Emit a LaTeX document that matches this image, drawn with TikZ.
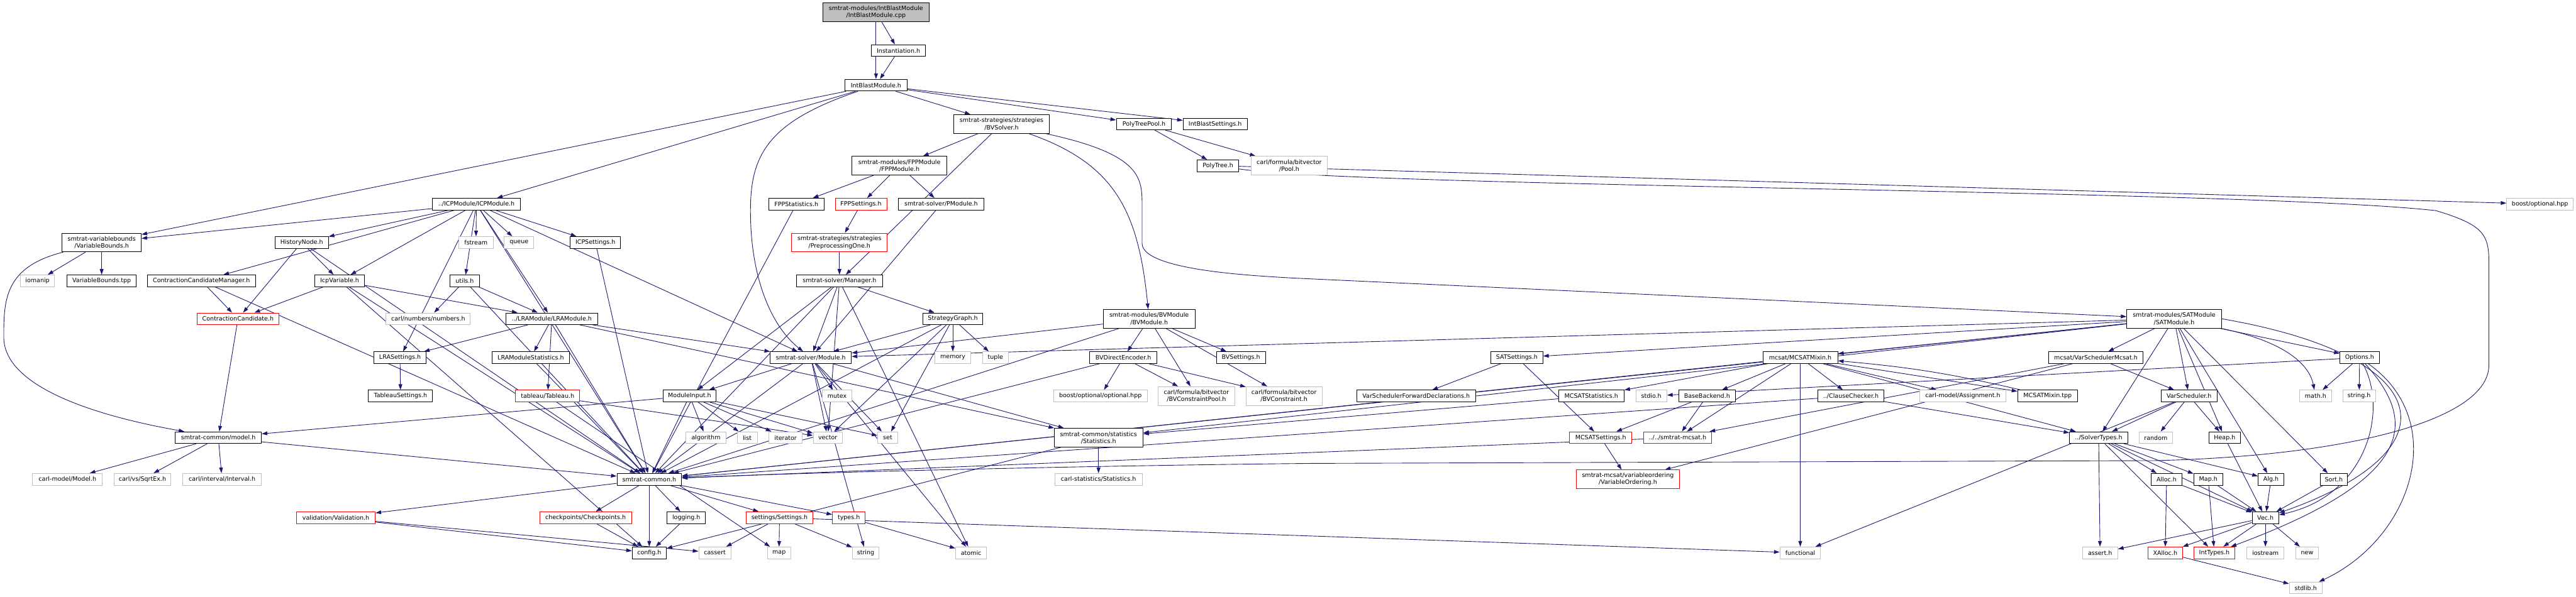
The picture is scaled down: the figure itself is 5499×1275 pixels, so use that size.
\documentclass[tikz,border=0pt]{standalone}
\usepackage{fontspec}
\newfontfamily\dotfont{DejaVu Sans}
\usetikzlibrary{arrows.meta,backgrounds}
\definecolor{edge}{HTML}{191970}
\definecolor{sysgray}{HTML}{BFBFBF}
\definecolor{rootfill}{HTML}{BFBFBF}

\begin{document}
\begin{tikzpicture}[x=1pt,y=-1pt,
    font=\dotfont\fontsize{12.8}{15}\selectfont,
    box/.style={draw,fill=white,line width=1.2pt,inner xsep=1pt,inner ysep=2pt,minimum height=25pt,align=center},
    hdr/.style={box,draw=black},
    sys/.style={box,draw=sysgray},
    cut/.style={box,draw=red},
    root/.style={hdr,fill=rootfill},
    two/.style={minimum height=40pt},
    wd/.style={minimum width=#1pt},
    arr/.style={-{Triangle[length=12pt,width=8pt]},draw=edge,line width=1.2pt}
  ]
  \useasboundingbox (0,0) rectangle (5499,1275);

  % top of the graph
  \node[root,two,wd=228] (root) at (1870,26) {smtrat-modules/IntBlastModule\\/IntBlastModule.cpp};
  \node[hdr,wd=116] (inst) at (1918,108) {Instantiation.h};
  \node[hdr,wd=132] (ibh) at (1870,182) {IntBlastModule.h};
  \node[hdr,two,wd=204] (bvsolver) at (2138,265) {smtrat-strategies/strategies\\/BVSolver.h};
  \node[hdr,wd=118] (ptpool) at (2442,265) {PolyTreePool.h};
  \node[hdr,wd=137] (ibset) at (2594,265) {IntBlastSettings.h};
  \node[hdr,two,wd=203] (fppmod) at (1920,354) {smtrat-modules/FPPModule\\/FPPModule.h};
  \node[hdr,wd=89] (polytree) at (2600,354) {PolyTree.h};
  \node[sys,two,wd=163] (bvpool) at (2752,354) {carl/formula/bitvector\\/Pool.h};
  \node[hdr,wd=188] (icpmod) at (1017,436) {../ICPModule/ICPModule.h};
  \node[hdr,wd=119] (fppstat) at (1700,436) {FPPStatistics.h};
  \node[cut,wd=110] (fppset) at (1838,436) {FPPSettings.h};
  \node[hdr,wd=183] (pmodule) at (2009,436) {smtrat-solver/PModule.h};
  \node[sys,wd=142] (boostopt) at (5422,436) {boost/optional.hpp};

  % icp and strategy level
  \node[hdr,two,wd=169] (varbounds) at (217,518) {smtrat-variablebounds\\/VariableBounds.h};
  \node[hdr,wd=114] (histnode) at (644,518) {HistoryNode.h};
  \node[sys,wd=73] (fstream) at (1016,518) {fstream};
  \node[sys,wd=63] (queue) at (1108,518) {queue};
  \node[hdr,wd=107] (icpset) at (1271,518) {ICPSettings.h};
  \node[cut,two,wd=204] (preproc) at (1792,518) {smtrat-strategies/strategies\\/PreprocessingOne.h};
  \node[sys,wd=73] (iomanip) at (80,600) {iomanip};
  \node[hdr,wd=148] (vbtpp) at (217,600) {VariableBounds.tpp};
  \node[hdr,wd=231] (ccm) at (430,600) {ContractionCandidateManager.h};
  \node[hdr,wd=106] (icpvar) at (725,600) {IcpVariable.h};
  \node[hdr,wd=63] (utils) at (992,600) {utils.h};
  \node[hdr,wd=184] (manager) at (1792,600) {smtrat-solver/Manager.h};

  % module level
  \node[cut,wd=175] (ccand) at (508,681) {ContractionCandidate.h};
  \node[sys,wd=180] (numbers) at (914,681) {carl/numbers/numbers.h};
  \node[hdr,wd=196] (lramod) at (1178,681) {../LRAModule/LRAModule.h};
  \node[hdr,wd=128] (stratgraph) at (2034,681) {StrategyGraph.h};
  \node[hdr,two,wd=196] (bvmod) at (2453,681) {smtrat-modules/BVModule\\/BVModule.h};
  \node[hdr,two,wd=202] (satmod) at (4641,681) {smtrat-modules/SATModule\\/SATModule.h};
  \node[hdr,wd=112] (lraset) at (854,764) {LRASettings.h};
  \node[hdr,wd=166] (lrastat) at (1133,764) {LRAModuleStatistics.h};
  \node[hdr,wd=173] (module) at (1731,764) {smtrat-solver/Module.h};
  \node[sys,wd=77] (memory) at (2034,764) {memory};
  \node[sys,wd=54] (tuple) at (2125,764) {tuple};
  \node[hdr,wd=143] (bvenc) at (2398,764) {BVDirectEncoder.h};
  \node[hdr,wd=105] (bvset) at (2649,764) {BVSettings.h};
  \node[hdr,wd=111] (satset) at (3238,764) {SATSettings.h};
  \node[hdr,wd=160] (mixin) at (3843,764) {mcsat/MCSATMixin.h};
  \node[hdr,wd=202] (vsmcsat) at (4474,764) {mcsat/VarSchedulerMcsat.h};
  \node[hdr,wd=84] (options) at (5037,764) {Options.h};

  % headers below the modules
  \node[hdr,wd=137] (tabset) at (855,846) {TableauSettings.h};
  \node[cut,wd=137] (tableau) at (1169,846) {tableau/Tableau.h};
  \node[hdr,wd=114] (modinput) at (1472,846) {ModuleInput.h};
  \node[sys,wd=63] (mutex) at (1787,846) {mutex};
  \node[sys,wd=200] (boostopt2) at (2349,846) {boost/optional/optional.hpp};
  \node[sys,two,wd=163] (bvcpool) at (2554,846) {carl/formula/bitvector\\/BVConstraintPool.h};
  \node[sys,two,wd=162] (bvcons) at (2741,846) {carl/formula/bitvector\\/BVConstraint.h};
  \node[hdr,wd=253] (vsfwd) at (3023,846) {VarSchedulerForwardDeclarations.h};
  \node[hdr,wd=140] (mcstat) at (3397,846) {MCSATStatistics.h};
  \node[sys,wd=66] (stdio) at (3525,846) {stdio.h};
  \node[hdr,wd=121] (backend) at (3644,846) {BaseBackend.h};
  \node[hdr,wd=141] (clausechk) at (3951,846) {../ClauseChecker.h};
  \node[sys,wd=185] (assign) at (4190,846) {carl-model/Assignment.h};
  \node[hdr,wd=128] (mixintpp) at (4371,846) {MCSATMixin.tpp};
  \node[hdr,wd=119] (varsched) at (4673,846) {VarScheduler.h};
  \node[sys,wd=68] (mathh) at (4943,846) {math.h};
  \node[sys,wd=70] (stringh) at (5036,846) {string.h};

  \node[hdr,wd=184] (model) at (466,935) {smtrat-common/model.h};
  \node[sys,wd=85] (algorithm) at (1507,935) {algorithm};
  \node[sys,wd=43] (list) at (1595,935) {list};
  \node[sys,wd=71] (iterator) at (1677,935) {iterator};
  \node[sys,wd=62] (vector) at (1767,935) {vector};
  \node[sys,wd=43] (set) at (1895,935) {set};
  \node[hdr,two,wd=190] (stats) at (2345,935) {smtrat-common/statistics\\/Statistics.h};
  \node[cut,wd=133] (mcset) at (3417,935) {MCSATSettings.h};
  \node[cut,wd=146] (mcsat) at (3581,935) {../../smtrat-mcsat.h};
  \node[hdr,wd=124] (soltypes) at (4480,935) {../SolverTypes.h};
  \node[sys,wd=72] (random) at (4602,935) {random};
  \node[hdr,wd=68] (heap) at (4749,935) {Heap.h};

  % common and minisat level
  \node[sys,wd=149] (carlmodel) at (144,1024) {carl-model/Model.h};
  \node[sys,wd=122] (sqrtex) at (304,1024) {carl/vs/SqrtEx.h};
  \node[sys,wd=167] (interval) at (474,1024) {carl/interval/Interval.h};
  \node[hdr,wd=138] (common) at (1386,1024) {smtrat-common.h};
  \node[sys,wd=187] (carlstats) at (2345,1024) {carl-statistics/Statistics.h};
  \node[cut,two,wd=221] (varorder) at (3475,1024) {smtrat-mcsat/variableordering\\/VariableOrdering.h};
  \node[hdr,wd=66] (alloc) at (4625,1024) {Alloc.h};
  \node[hdr,wd=62] (maph) at (4714,1024) {Map.h};
  \node[hdr,wd=55] (alg) at (4848,1024) {Alg.h};
  \node[hdr,wd=59] (sort) at (4982,1024) {Sort.h};
  \node[cut,wd=168] (validation) at (717,1106) {validation/Validation.h};
  \node[cut,wd=196] (checkpoints) at (1250,1106) {checkpoints/Checkpoints.h};
  \node[hdr,wd=82] (logging) at (1465,1106) {logging.h};
  \node[cut,wd=143] (settings) at (1664,1106) {settings/Settings.h};
  \node[cut,wd=70] (types) at (1812,1106) {types.h};
  \node[hdr,wd=57] (vec) at (4836,1106) {Vec.h};
  \node[hdr,wd=73] (config) at (1386,1181) {config.h};
  \node[sys,wd=69] (cassert) at (1526,1181) {cassert};
  \node[sys,wd=50] (map) at (1663,1181) {map};
  \node[sys,wd=57] (string) at (1848,1181) {string};
  \node[sys,wd=66] (atomic) at (2073,1181) {atomic};
  \node[sys,wd=87] (functional) at (3843,1181) {functional};
  \node[sys,wd=75] (asserth) at (4483,1181) {assert.h};
  \node[cut,wd=74] (xalloc) at (4622,1181) {XAlloc.h};
  \node[cut,wd=87] (inttypes) at (4727,1181) {IntTypes.h};
  \node[sys,wd=79] (iostream) at (4836,1181) {iostream};
  \node[sys,wd=49] (new) at (4925,1181) {new};
  \node[sys,wd=70] (stdlib) at (4922,1256) {stdlib.h};

  \begin{scope}[on background layer]
  % includes of the top files
  \draw[arr] (root) -- (inst); \draw[arr] (root) -- (ibh);
  \draw[arr] (inst) -- (ibh);
  \draw[arr] (ibh) -- (varbounds); \draw[arr] (ibh) -- (icpmod); \draw[arr] (ibh) -- (bvsolver);
  \draw[arr] (ibh) -- (ptpool); \draw[arr] (ibh) -- (ibset);
  \draw[arr] (ibh) .. controls (1640,260) and (1602,330) .. (1602,450) .. controls (1602,600) and (1650,700) .. (module);
  \draw[arr] (ptpool) -- (polytree); \draw[arr] (ptpool) -- (bvpool);
  \draw[arr] (polytree) -- (boostopt);
  \draw[arr] (polytree) .. controls (2900,400) and (4800,405) .. (5200,450) .. controls (5300,480) and (5313,500) .. (5313,560) -- (5313,780) .. controls (5313,900) and (5000,975) .. (4600,984) -- (2800,990) .. controls (2300,995) and (1700,1010) .. (common);
  \draw[arr] (bvsolver) -- (fppmod); \draw[arr] (bvsolver) -- (manager);
  \draw[arr] (bvsolver) .. controls (2380,350) and (2430,450) .. (bvmod);
  \draw[arr] (bvsolver) .. controls (2438,330) and (2438,380) .. (2438,440) -- (2438,520) .. controls (2438,580) and (2700,590) .. (2760,594) -- (satmod);
  \draw[arr] (fppmod) -- (fppstat); \draw[arr] (fppmod) -- (fppset); \draw[arr] (fppmod) -- (pmodule);
  \draw[arr] (fppset) -- (preproc); \draw[arr] (preproc) -- (manager);
  \draw[arr] (fppstat) -- (common); \draw[arr] (pmodule) -- (module);

  % the icp module
  \draw[arr] (icpmod) -- (varbounds); \draw[arr] (icpmod) -- (histnode); \draw[arr] (icpmod) -- (ccm);
  \draw[arr] (icpmod) -- (icpvar); \draw[arr] (icpmod) -- (utils); \draw[arr] (icpmod) -- (fstream);
  \draw[arr] (icpmod) -- (queue); \draw[arr] (icpmod) -- (icpset); \draw[arr] (icpmod) -- (lramod);
  \draw[arr] (icpmod) -- (lraset); \draw[arr] (icpmod) -- (module); \draw[arr] (icpmod) -- (common);
  \draw[arr] (icpset) -- (common);
  \draw[arr] (histnode) -- (icpvar); \draw[arr] (histnode) -- (ccand); \draw[arr] (histnode) -- (common);
  \draw[arr] (icpvar) -- (ccand); \draw[arr] (icpvar) -- (lramod); \draw[arr] (icpvar) -- (common);
  \draw[arr] (icpvar) -- (config);
  \draw[arr] (ccm) -- (ccand); \draw[arr] (ccm) -- (common);
  \draw[arr] (ccand) -- (model);
  \draw[arr] (varbounds) -- (iomanip); \draw[arr] (varbounds) -- (vbtpp);
  \draw[arr] (varbounds) .. controls (10,570) and (8,640) .. (8,720) .. controls (8,850) and (300,905) .. (model);
  \draw[arr] (utils) -- (numbers); \draw[arr] (utils) -- (lramod); \draw[arr] (utils) -- (common);

  % the lra module
  \draw[arr] (lramod) -- (lrastat); \draw[arr] (lramod) -- (tableau); \draw[arr] (lramod) -- (lraset);
  \draw[arr] (lramod) -- (module); \draw[arr] (lramod) -- (stats); \draw[arr] (lramod) -- (common);
  \draw[arr] (lraset) -- (tabset); \draw[arr] (lrastat) -- (common);
  \draw[arr] (tableau) -- (vector); \draw[arr] (tableau) -- (map);
  \draw[arr] (model) -- (carlmodel); \draw[arr] (model) -- (sqrtex); \draw[arr] (model) -- (interval);
  \draw[arr] (model) -- (common);

  % solver core
  \draw[arr] (manager) -- (module); \draw[arr] (manager) -- (stratgraph); \draw[arr] (manager) -- (modinput);
  \draw[arr] (manager) -- (vector); \draw[arr] (manager) -- (common); \draw[arr] (manager) -- (atomic);
  \draw[arr] (stratgraph) -- (memory); \draw[arr] (stratgraph) -- (tuple); \draw[arr] (stratgraph) -- (set);
  \draw[arr] (stratgraph) -- (vector); \draw[arr] (stratgraph) -- (module); \draw[arr] (stratgraph) -- (common);
  \draw[arr] (module) -- (modinput); \draw[arr] (module) -- (mutex); \draw[arr] (module) -- (vector);
  \draw[arr] (module) -- (set); \draw[arr] (module) -- (common); \draw[arr] (module) -- (stats);
  \draw[arr] (module) -- (string); \draw[arr] (module) -- (atomic);
  \draw[arr] (modinput) -- (algorithm); \draw[arr] (modinput) -- (list); \draw[arr] (modinput) -- (iterator);
  \draw[arr] (modinput) -- (vector); \draw[arr] (modinput) -- (set); \draw[arr] (modinput) -- (model);
  \draw[arr] (modinput) -- (common);

  % smtrat-common
  \draw[arr] (common) -- (validation); \draw[arr] (common) -- (checkpoints); \draw[arr] (common) -- (logging);
  \draw[arr] (common) -- (settings); \draw[arr] (common) -- (types); \draw[arr] (common) -- (config);
  \draw[arr] (checkpoints) -- (config); \draw[arr] (logging) -- (config);
  \draw[arr] (settings) -- (cassert); \draw[arr] (settings) -- (map); \draw[arr] (settings) -- (string);
  \draw[arr] (settings) -- (functional);
  \draw[arr] (validation) -- (config); \draw[arr] (validation) -- (cassert);
  \draw[arr] (types) -- (atomic);
  \draw[arr] (stats) -- (carlstats); \draw[arr] (stats) -- (config);

  % the bv module
  \draw[arr] (bvmod) -- (bvenc); \draw[arr] (bvmod) -- (bvset); \draw[arr] (bvmod) -- (bvcpool);
  \draw[arr] (bvmod) -- (bvcons); \draw[arr] (bvmod) -- (module); \draw[arr] (bvmod) -- (common);
  \draw[arr] (bvenc) -- (boostopt2); \draw[arr] (bvenc) -- (bvcpool); \draw[arr] (bvenc) -- (bvcons);
  \draw[arr] (bvenc) -- (common);

  % the sat module
  \draw[arr] (satmod) -- (satset); \draw[arr] (satmod) -- (mixin); \draw[arr] (satmod) -- (vsmcsat);
  \draw[arr] (satmod) -- (options); \draw[arr] (satmod) -- (varsched); \draw[arr] (satmod) -- (heap);
  \draw[arr] (satmod) -- (alg); \draw[arr] (satmod) -- (sort); \draw[arr] (satmod) -- (soltypes);
  \draw[arr] (satmod) -- (module); \draw[arr] (satmod) -- (stats); \draw[arr] (satmod) -- (common);
  \draw[arr] (satmod) .. controls (4880,730) and (4930,780) .. (mathh);
  \draw[arr] (satmod.east) .. controls (5200,760) and (5250,960) .. (vec);
  \draw[arr] (satset) -- (vsfwd); \draw[arr] (satset) -- (mcset);
  \draw[arr] (mixin) -- (backend); \draw[arr] (mixin) -- (clausechk); \draw[arr] (mixin) -- (assign);
  \draw[arr] (mixin) -- (mixintpp); \draw[arr] (mixin) -- (mcstat); \draw[arr] (mixin) -- (mcsat);
  \draw[arr] (mixin) -- (soltypes); \draw[arr] (mixin) -- (functional); \draw[arr] (mixin) -- (common);
  \draw[arr] (mixintpp) to[bend right=4] (mixin);
  \draw[arr] (clausechk) -- (soltypes); \draw[arr] (clausechk) -- (common);
  \draw[arr] (backend) -- (mcset); \draw[arr] (backend) -- (mcsat);
  \draw[arr] (mcset) -- (varorder); \draw[arr] (mcsat) -- (common); \draw[arr] (mcstat) -- (stats);
  \draw[arr] (vsmcsat) -- (varsched); \draw[arr] (vsmcsat) -- (varorder); \draw[arr] (vsmcsat) -- (mcsat);
  \draw[arr] (varsched) -- (random); \draw[arr] (varsched) -- (heap); \draw[arr] (varsched) -- (soltypes);
  \draw[arr] (varsched) -- (functional);

  % minisat headers
  \draw[arr] (options) -- (mathh); \draw[arr] (options) -- (stringh); \draw[arr] (options) -- (stdio);
  \draw[arr] (options) .. controls (5100,880) and (5050,1060) .. (vec);
  \draw[arr] (options) .. controls (5160,900) and (5160,1020) .. (inttypes);
  \draw[arr] (options) .. controls (5230,900) and (5150,1150) .. (stdlib);
  \draw[arr] (soltypes) -- (asserth); \draw[arr] (soltypes) -- (alloc); \draw[arr] (soltypes) -- (maph);
  \draw[arr] (soltypes) -- (alg); \draw[arr] (soltypes) -- (vec); \draw[arr] (soltypes) -- (inttypes);
  \draw[arr] (heap) -- (vec); \draw[arr] (alloc) -- (xalloc); \draw[arr] (alloc) -- (vec);
  \draw[arr] (maph) -- (inttypes); \draw[arr] (maph) -- (vec); \draw[arr] (alg) -- (vec);
  \draw[arr] (sort) -- (vec);
  \draw[arr] (vec) -- (inttypes); \draw[arr] (vec) -- (iostream); \draw[arr] (vec) -- (new);
  \draw[arr] (vec) -- (xalloc); \draw[arr] (vec) -- (asserth);
  \draw[arr] (xalloc) -- (stdlib);
  \end{scope}
\end{tikzpicture}
\end{document}
